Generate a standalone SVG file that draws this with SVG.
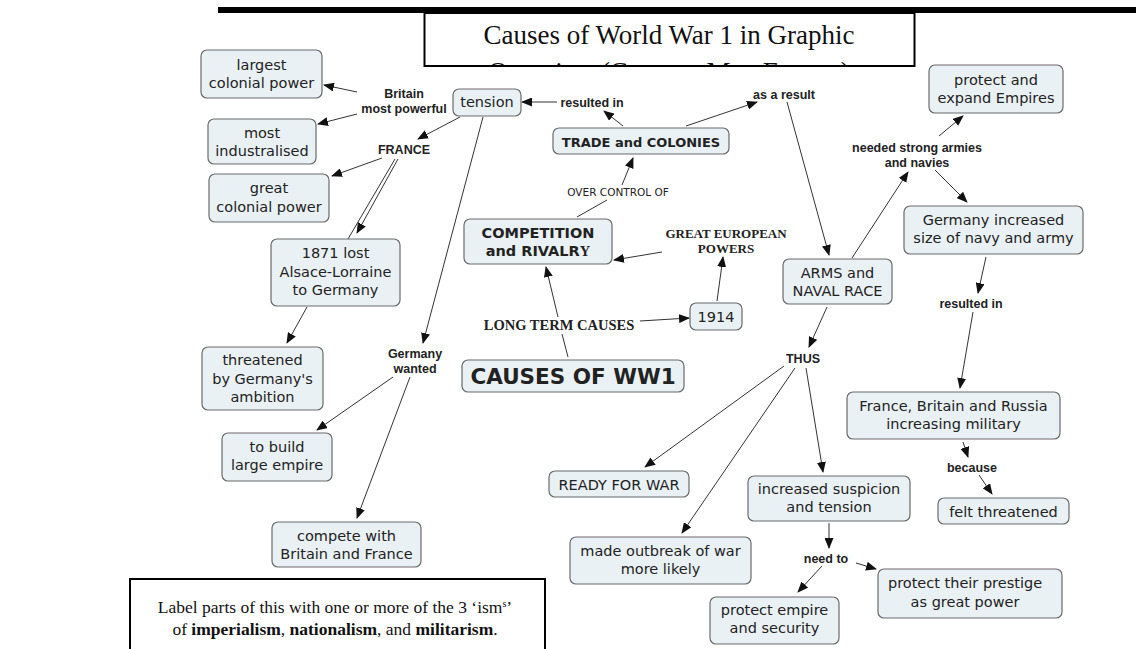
<svg xmlns="http://www.w3.org/2000/svg" width="1139" height="649" viewBox="0 0 1139 649">
<defs>
<marker id="ah" markerUnits="userSpaceOnUse" markerWidth="11" markerHeight="9" refX="10" refY="4.5" orient="auto">
<path d="M0,0 L11,4.5 L0,9 z" fill="#111"/>
</marker>
<clipPath id="tclip"><rect x="425" y="14" width="489" height="51"/></clipPath>
</defs>
<style>
.n rect{fill:#eaf1f5;stroke:#6a6a6a;stroke-width:1.2}
.n text{font-family:"DejaVu Sans",Verdana,sans-serif;font-size:14.5px;fill:#222;text-anchor:middle}
.n text.b{font-weight:bold;font-size:14.5px}
.l text{font-family:"Liberation Sans",Arial,sans-serif;font-weight:bold;font-size:12.5px;fill:#222;text-anchor:middle}
.l text.s{font-family:"Liberation Serif","Times New Roman",serif;font-size:13px}
.l text.o{font-family:"DejaVu Sans",Verdana,sans-serif;font-weight:normal;font-size:10.5px}
.c line{stroke:#333;stroke-width:1}
.c line.a{marker-end:url(#ah)}
.t{font-family:"Liberation Serif","Times New Roman",serif;fill:#111}
</style>
<rect width="1139" height="649" fill="#fff"/>

<g id="header">
<rect x="218" y="7" width="918" height="6" fill="#000"/>
<rect x="424.5" y="13" width="490" height="53" fill="#fff" stroke="#000" stroke-width="2"/>
<text class="t" x="669" y="44" font-size="27" text-anchor="middle">Causes of World War 1 in Graphic</text>
<text class="t" x="669" y="81" font-size="27" text-anchor="middle" clip-path="url(#tclip)">Organiser (Concept Map Format)</text>
</g>

<g id="instructions">
<path d="M130,649 V579 H545 V649" fill="#fff" stroke="#000" stroke-width="2"/>
<text class="t" x="335" y="613" font-size="17.5" text-anchor="middle">Label parts of this with one or more of the 3 ‘ism<tspan font-size="10" dy="-6">s</tspan><tspan dy="6">’</tspan></text>
<text class="t" x="335" y="635" font-size="17.5" text-anchor="middle">of <tspan font-weight="bold">imperialism</tspan>, <tspan font-weight="bold">nationalism</tspan>, and <tspan font-weight="bold">militarism</tspan>.</text>
</g>

<g id="connectors" class="c">
<line class="a" x1="357" y1="92" x2="324" y2="85"/>
<line class="a" x1="357" y1="114" x2="318" y2="124"/>
<line class="a" x1="460" y1="117" x2="418" y2="139"/>
<line class="a" x1="382" y1="158" x2="332" y2="176"/>
<line class="a" x1="398" y1="159" x2="357" y2="233"/>
<line x1="395" y1="159" x2="348" y2="239"/>
<line class="a" x1="483" y1="117" x2="423" y2="343"/>
<line class="a" x1="307" y1="307" x2="287" y2="343"/>
<line class="a" x1="393" y1="377" x2="317" y2="430"/>
<line class="a" x1="410" y1="377" x2="357" y2="518"/>
<line class="a" x1="557" y1="102" x2="522" y2="102"/>
<line class="a" x1="623" y1="126" x2="604" y2="111"/>
<line class="a" x1="686" y1="126" x2="757" y2="102"/>
<line class="a" x1="622" y1="185" x2="633" y2="158"/>
<line x1="577" y1="217" x2="607" y2="200"/>
<line class="a" x1="662" y1="252" x2="614" y2="260"/>
<line class="a" x1="717" y1="301" x2="723" y2="257"/>
<line class="a" x1="640" y1="321" x2="689" y2="318"/>
<line x1="568" y1="357" x2="562" y2="334"/>
<line class="a" x1="558" y1="317" x2="546" y2="267"/>
<line class="a" x1="787" y1="102" x2="829" y2="255"/>
<line class="a" x1="852" y1="258" x2="908" y2="172"/>
<line class="a" x1="939" y1="136" x2="963" y2="116"/>
<line class="a" x1="935" y1="170" x2="967" y2="202"/>
<line class="a" x1="986" y1="257" x2="978" y2="293"/>
<line class="a" x1="973" y1="312" x2="960" y2="388"/>
<line class="a" x1="963" y1="442" x2="968" y2="457"/>
<line class="a" x1="979" y1="475" x2="992" y2="494"/>
<line class="a" x1="827" y1="307" x2="809" y2="347"/>
<line class="a" x1="806" y1="368" x2="823" y2="472"/>
<line class="a" x1="784" y1="366" x2="645" y2="467"/>
<line class="a" x1="795" y1="368" x2="682" y2="533"/>
<line class="a" x1="829" y1="523" x2="829" y2="548"/>
<line class="a" x1="822" y1="566" x2="798" y2="592"/>
<line class="a" x1="856" y1="563" x2="876" y2="569"/>
</g>

<g id="n-largest" class="n"><rect x="201" y="50" width="121" height="48" rx="6"/><text x="261.5" y="70">largest</text><text x="261.5" y="88">colonial power</text></g>
<g id="n-industralised" class="n"><rect x="208" y="119" width="108" height="45" rx="6"/><text x="262" y="138">most</text><text x="262" y="156">industralised</text></g>
<g id="n-great-colonial" class="n"><rect x="209" y="174" width="120" height="48" rx="6"/><text x="269" y="193">great</text><text x="269" y="212">colonial power</text></g>
<g id="n-tension" class="n"><rect x="453" y="89" width="68" height="27" rx="6"/><text x="487" y="107">tension</text></g>
<g id="n-trade" class="n"><rect x="553" y="128" width="176" height="26" rx="6"/><text class="b" x="641" y="146.5" style="font-size:13px">TRADE and COLONIES</text></g>
<g id="n-competition" class="n"><rect x="464" y="219" width="148" height="45" rx="6"/><text class="b" x="538" y="238">COMPETITION</text><text class="b" x="538" y="256">and RIVALR<tspan font-family="Liberation Serif, serif">Y</tspan></text></g>
<g id="n-1914" class="n"><rect x="690" y="303" width="52" height="27" rx="6"/><text x="716" y="322">1914</text></g>
<g id="n-causes" class="n"><rect x="462" y="360" width="222" height="32" rx="6"/><text class="b" x="573" y="384" style="font-size:21.5px">CAUSES OF WW1</text></g>
<g id="n-arms" class="n"><rect x="783" y="259" width="109" height="45" rx="6"/><text x="837.5" y="278">ARMS and</text><text x="837.5" y="296">NAVAL RACE</text></g>
<g id="n-expand" class="n"><rect x="929" y="65" width="134" height="48" rx="6"/><text x="996" y="85">protect and</text><text x="996" y="103">expand Empires</text></g>
<g id="n-germany-navy" class="n"><rect x="904" y="206" width="179" height="48" rx="6"/><text x="993.5" y="225">Germany increased</text><text x="993.5" y="243">size of navy and army</text></g>
<g id="n-fbr" class="n"><rect x="847" y="392" width="213" height="47" rx="6"/><text x="953.5" y="411">France, Britain and Russia</text><text x="953.5" y="429">increasing military</text></g>
<g id="n-felt" class="n"><rect x="938" y="498" width="131" height="26" rx="6"/><text x="1003.5" y="516.5">felt threatened</text></g>
<g id="n-ready" class="n"><rect x="549" y="471" width="140" height="26" rx="6"/><text x="619" y="489.5">READY FOR WAR</text></g>
<g id="n-suspicion" class="n"><rect x="748" y="476" width="162" height="45" rx="6"/><text x="829" y="494">increased suspicion</text><text x="829" y="512">and tension</text></g>
<g id="n-outbreak" class="n"><rect x="570" y="537" width="181" height="47" rx="6"/><text x="660.5" y="556">made outbreak of war</text><text x="660.5" y="574">more likely</text></g>
<g id="n-empire-security" class="n"><rect x="710" y="597" width="129" height="47" rx="6"/><text x="774.5" y="615">protect empire</text><text x="774.5" y="633">and security</text></g>
<g id="n-prestige" class="n"><rect x="878" y="569" width="184" height="49" rx="6"/><text x="965" y="588">protect their prestige</text><text x="965" y="607">as great power</text></g>
<g id="n-1871" class="n"><rect x="271" y="239" width="129" height="67" rx="6"/><text x="335.5" y="258">1871 lost</text><text x="335.5" y="277">Alsace-Lorraine</text><text x="335.5" y="295">to Germany</text></g>
<g id="n-threatened" class="n"><rect x="202" y="347" width="121" height="63" rx="6"/><text x="262.5" y="365">threatened</text><text x="262.5" y="384">by Germany's</text><text x="262.5" y="402">ambition</text></g>
<g id="n-build" class="n"><rect x="222" y="433" width="110" height="48" rx="6"/><text x="277" y="452">to build</text><text x="277" y="470">large empire</text></g>
<g id="n-compete" class="n"><rect x="272" y="522" width="149" height="45" rx="6"/><text x="346.5" y="541">compete with</text><text x="346.5" y="559">Britain and France</text></g>

<g id="l-britain" class="l"><text x="404" y="97.5">Britain</text><text x="404" y="112.5">most powerful</text></g>
<g id="l-france" class="l"><text x="404" y="153.5">FRANCE</text></g>
<g id="l-resulted1" class="l"><text x="592" y="106.5">resulted in</text></g>
<g id="l-asaresult" class="l"><text x="784" y="98.5">as a result</text></g>
<g id="l-over" class="l"><text class="o" x="618" y="196">OVER CONTROL OF</text></g>
<g id="l-great" class="l"><text class="s" x="726" y="237.5">GREAT EUROPEAN</text><text class="s" x="726" y="252.5">POWERS</text></g>
<g id="l-longterm" class="l"><text class="s" x="559" y="330" style="font-size:14.5px">LONG TERM CAUSES</text></g>
<g id="l-germany" class="l"><text x="415" y="357.5">Germany</text><text x="415" y="372.5">wanted</text></g>
<g id="l-needed" class="l"><text x="917" y="151.5">needed strong armies</text><text x="917" y="166.5">and navies</text></g>
<g id="l-resulted2" class="l"><text x="971" y="307.5">resulted in</text></g>
<g id="l-thus" class="l"><text x="803" y="362.5">THUS</text></g>
<g id="l-because" class="l"><text x="972" y="471.5">because</text></g>
<g id="l-needto" class="l"><text x="826" y="562.5">need to</text></g>
</svg>
